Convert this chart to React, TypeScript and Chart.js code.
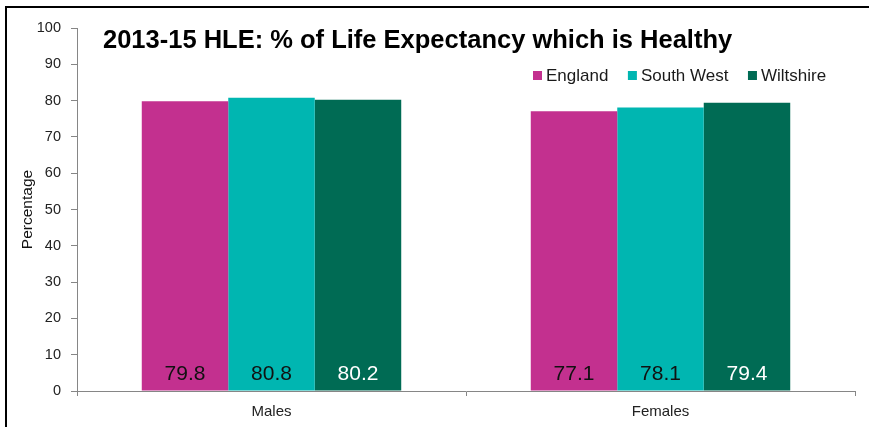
import React, { useEffect, useRef } from "react";
import { Chart, registerables } from "chart.js";

Chart.register(...registerables);

const categories = ["Males", "Females"];
const seriesNames = ["England", "South West", "Wiltshire"];
const englandValues = [79.8, 77.1];
const southWestValues = [80.8, 78.1];
const wiltshireValues = [80.2, 79.4];
const seriesColors = ["#C3308F", "#00B6B1", "#006B54"];
const labelColors = ["#111111", "#111111", "#FFFFFF"];
const titleText = "2013-15 HLE: % of Life Expectancy which is Healthy";
const yAxisTitle = "Percentage";

const FONT = "'Liberation Sans', Arial, sans-serif";

const overlayPlugin = {
  id: "overlay",
  afterDatasetsDraw(chart: any) {
    const ctx = chart.ctx;
    const yScale = chart.scales.y;
    ctx.save();
    ctx.font = `21px ${FONT}`;
    ctx.textAlign = "center";
    ctx.textBaseline = "alphabetic";
    chart.data.datasets.forEach((ds: any, i: number) => {
      const meta = chart.getDatasetMeta(i);
      meta.data.forEach((bar: any, j: number) => {
        ctx.fillStyle = labelColors[i];
        ctx.fillText(ds.data[j].toFixed(1), bar.x, yScale.getPixelForValue(0) - 11);
      });
    });
    ctx.restore();
  },
  afterDraw(chart: any) {
    const ctx = chart.ctx;
    const area = chart.chartArea;
    ctx.save();
    // title
    ctx.font = `bold 25.5px ${FONT}`;
    ctx.fillStyle = "#000000";
    ctx.textAlign = "left";
    ctx.textBaseline = "alphabetic";
    ctx.fillText(titleText, area.left + 26, 48);
    // legend
    ctx.font = `17px ${FONT}`;
    let x = 533;
    chart.data.datasets.forEach((ds: any) => {
      ctx.fillStyle = ds.backgroundColor;
      ctx.fillRect(x, 71, 9, 9);
      ctx.fillStyle = "#1a1a1a";
      ctx.fillText(ds.label, x + 13, 81);
      x += 13 + ctx.measureText(ds.label).width + 19.5;
    });
    ctx.restore();
  },
};

export default function App() {
  const canvasRef = useRef<HTMLCanvasElement | null>(null);

  useEffect(() => {
    if (!canvasRef.current) return;
    const values = [englandValues, southWestValues, wiltshireValues];
    const chart = new Chart(canvasRef.current, {
      type: "bar",
      data: {
        labels: categories,
        datasets: seriesNames.map((name, i) => ({
          label: name,
          data: values[i],
          backgroundColor: seriesColors[i],
          borderWidth: 0,
          categoryPercentage: 0.667,
          barPercentage: 1,
        })),
      },
      options: {
        responsive: false,
        animation: false,
        devicePixelRatio: 1,
        layout: { padding: { left: 8, top: 28, right: 14, bottom: 0 } },
        plugins: {
          legend: { display: false },
          title: { display: false },
          tooltip: { enabled: false },
        },
        scales: {
          x: {
            grid: {
              display: true,
              drawOnChartArea: false,
              drawTicks: true,
              tickLength: 5,
              color: "#868686",
              offset: true,
            },
            border: { display: true, color: "#868686", width: 1 },
            ticks: {
              color: "#222222",
              padding: 7,
              font: { family: FONT, size: 15 },
            },
            afterFit(scale: any) {
              scale.height = 427 - 391;
            },
          },
          y: {
            min: 0,
            max: 100,
            ticks: {
              stepSize: 10,
              color: "#222222",
              padding: 10,
              font: { family: FONT, size: 14.5 },
            },
            grid: {
              display: true,
              drawOnChartArea: false,
              drawTicks: true,
              tickLength: 6,
              color: "#868686",
            },
            border: { display: true, color: "#868686", width: 1 },
            title: {
              display: true,
              text: yAxisTitle,
              color: "#111111",
              font: { family: FONT, size: 15.5 },
              padding: { top: 10, bottom: 0 },
            },
            afterFit(scale: any) {
              scale.width = 77 - 8;
            },
          },
        },
      },
      plugins: [overlayPlugin],
    } as any);
    return () => chart.destroy();
  }, []);

  return (
    <div
      style={{
        position: "absolute",
        left: 0,
        top: 0,
        width: 869,
        height: 427,
        background: "#ffffff",
        overflow: "hidden",
      }}
    >
      <canvas
        ref={canvasRef}
        width={869}
        height={427}
        style={{ position: "absolute", left: 0, top: 0, width: 869, height: 427 }}
      />
      <div
        style={{
          position: "absolute",
          left: 5,
          top: 6,
          width: 864,
          height: 421,
          borderTop: "2px solid #000",
          borderLeft: "2px solid #000",
          boxSizing: "border-box",
          pointerEvents: "none",
        }}
      />
    </div>
  );
}
